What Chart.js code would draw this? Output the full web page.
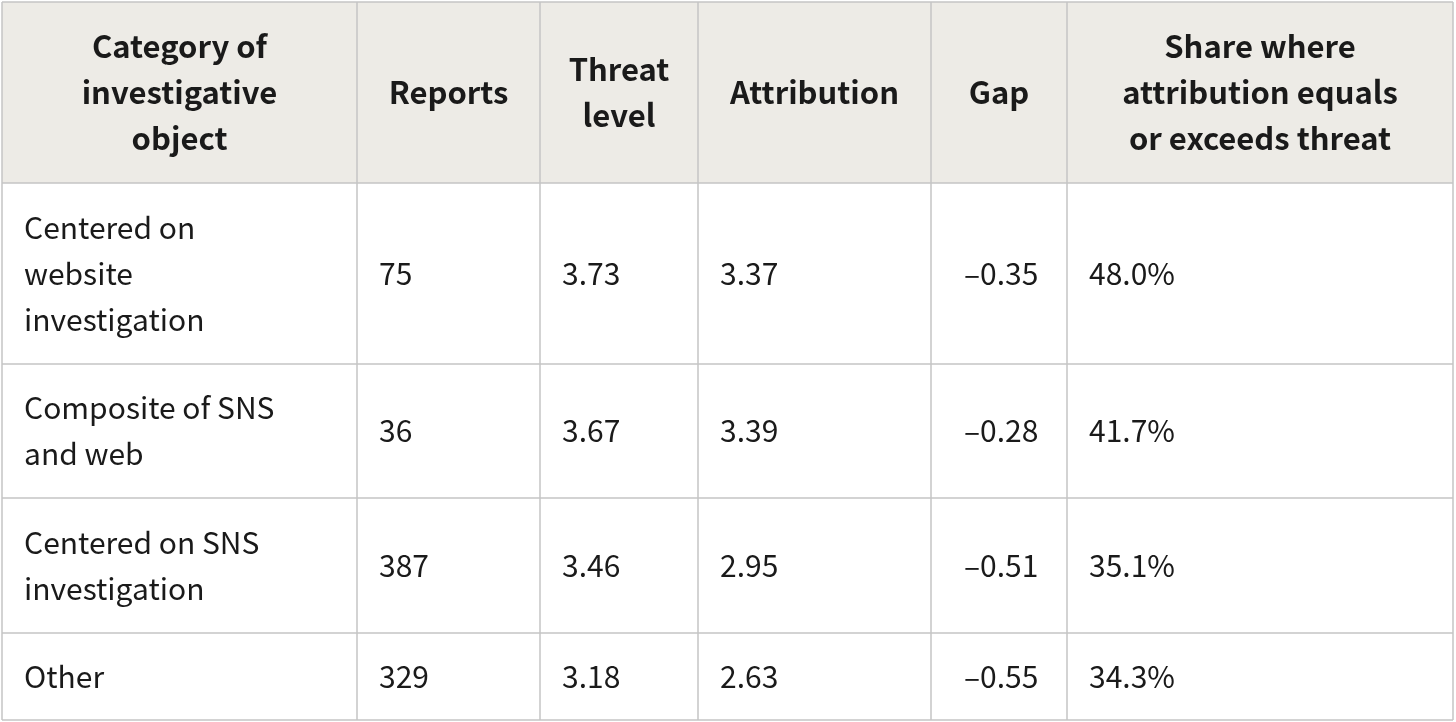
<!DOCTYPE html>
<html>
<head>
<meta charset="utf-8">
<script src="https://cdn.jsdelivr.net/npm/chart.js@4"></script>
<style>
  html, body { margin: 0; padding: 0; background: #fff; }
  #wrap { width: 1456px; height: 722px; }
</style>
</head>
<body>
<div id="wrap"><canvas id="tbl"></canvas></div>
<script>
// table content
const headers = [
  ['Category of', 'investigative', 'object'],
  ['Reports'],
  ['Threat', 'level'],
  ['Attribution'],
  ['Gap'],
  ['Share where', 'attribution equals', 'or exceeds threat']
];
const categories = [
  ['Centered on', 'website', 'investigation'],
  ['Composite of SNS', 'and web'],
  ['Centered on SNS', 'investigation'],
  ['Other']
];
const reports = ['75', '36', '387', '329'];
const threatLevel = ['3.73', '3.67', '3.46', '3.18'];
const attribution = ['3.37', '3.39', '2.95', '2.63'];
const gap = ['\u20130.35', '\u20130.28', '\u20130.51', '\u20130.55'];
const share = ['48.0%', '41.7%', '35.1%', '34.3%'];

// layout (in scale units)
const colEdges = [2, 357, 540, 698, 931, 1067, 1453];
const rowEdges = [2, 183, 364, 498, 633, 720];
const FONT = '"Noto Sans CJK JP", "Noto Sans", sans-serif';

const tablePlugin = {
  id: 'tablePlugin',
  afterDraw(chart) {
    const { ctx, scales: { x, y } } = chart;
    const px = v => x.getPixelForValue(v);
    const py = v => y.getPixelForValue(v);
    ctx.save();
    // header background
    ctx.fillStyle = '#edebe6';
    ctx.fillRect(px(colEdges[0]), py(rowEdges[0]), px(colEdges[6]) - px(colEdges[0]), py(rowEdges[1]) - py(rowEdges[0]));

    ctx.textBaseline = 'middle';
    ctx.fillStyle = '#1a1a1a';
    const lh = 46;
    // header text
    ctx.font = 'bold 31px ' + FONT;
    ctx.textAlign = 'center';
    headers.forEach((lines, c) => {
      const cx = (px(colEdges[c]) + px(colEdges[c + 1])) / 2;
      const cy = (py(rowEdges[0]) + py(rowEdges[1])) / 2;
      lines.forEach((t, i) => ctx.fillText(t, cx, cy + (i - (lines.length - 1) / 2) * lh));
    });
    // body
    ctx.font = '30px ' + FONT;
    ctx.textAlign = 'left';
    const cols = [categories, reports, threatLevel, attribution, gap, share];
    const pads = [22, 22, 22, 22, 33, 22];
    cols.forEach((col, c) => {
      col.forEach((cell, r) => {
        const lines = Array.isArray(cell) ? cell : [cell];
        const cx = px(colEdges[c]) + pads[c];
        const cy = (py(rowEdges[r + 1]) + py(rowEdges[r + 2])) / 2;
        lines.forEach((t, i) => ctx.fillText(t, cx, cy + (i - (lines.length - 1) / 2) * lh));
      });
    });
    // grid lines
    ctx.strokeStyle = '#c4c4c4';
    ctx.lineWidth = 1.5;
    colEdges.forEach(v => {
      ctx.beginPath();
      ctx.moveTo(px(v), py(rowEdges[0]));
      ctx.lineTo(px(v), py(rowEdges[rowEdges.length - 1]));
      ctx.stroke();
    });
    rowEdges.forEach(v => {
      ctx.beginPath();
      ctx.moveTo(px(colEdges[0]), py(v));
      ctx.lineTo(px(colEdges[colEdges.length - 1]), py(v));
      ctx.stroke();
    });
    ctx.restore();
  }
};

new Chart(document.getElementById('tbl'), {
  type: 'scatter',
  data: { datasets: [] },
  options: {
    responsive: true,
    maintainAspectRatio: false,
    animation: false,
    layout: { padding: 0 },
    plugins: { legend: { display: false }, tooltip: { enabled: false } },
    scales: {
      x: { type: 'linear', min: 0, max: 1456, display: false },
      y: { type: 'linear', min: 0, max: 722, reverse: true, display: false }
    }
  },
  plugins: [tablePlugin]
});
</script>
</body>
</html>
